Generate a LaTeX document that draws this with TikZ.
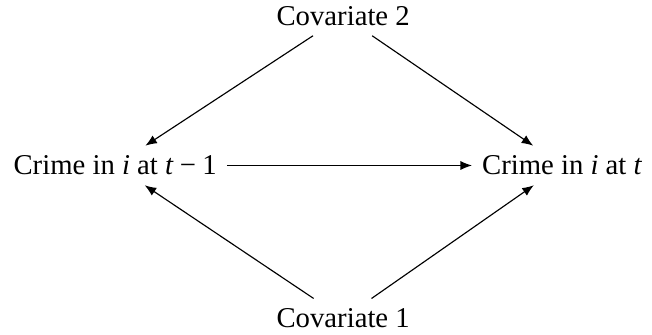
\documentclass[tikz,border=0pt]{standalone}
\usepackage{fontspec}
\setmainfont{Liberation Serif}
\usepackage{tikz}
\usetikzlibrary{arrows.meta}
\newcommand{\mv}[1]{\textit{#1}}
\newcommand{\mminus}{\hspace{0.22em}−\hspace{0.22em}}

\begin{document}
\begin{tikzpicture}[
    var/.style={font=\normalsize, anchor=base},
    edge/.style={-{Latex[length=4pt,width=3.2pt]}, line width=0.4pt}]
  \useasboundingbox (0,0) rectangle (7.98,4.10);
  % variables
  \node[var] (cov2) at (4.20,3.79) {Covariate 2};
  \node[var] (lag) at (1.41,1.96) {Crime in \mv{i} at \mv{t}\mminus 1};
  \node[var] (now) at (6.88,1.96) {Crime in \mv{i} at \mv{t}};
  \node[var] (cov1) at (4.20,0.09) {Covariate 1};
  % effects
  \draw[edge] (cov2) -- (lag);
  \draw[edge] (cov2) -- (now);
  \draw[edge] (lag) -- (now);
  \draw[edge] (cov1) -- (lag);
  \draw[edge] (cov1) -- (now);
\end{tikzpicture}
\end{document}
